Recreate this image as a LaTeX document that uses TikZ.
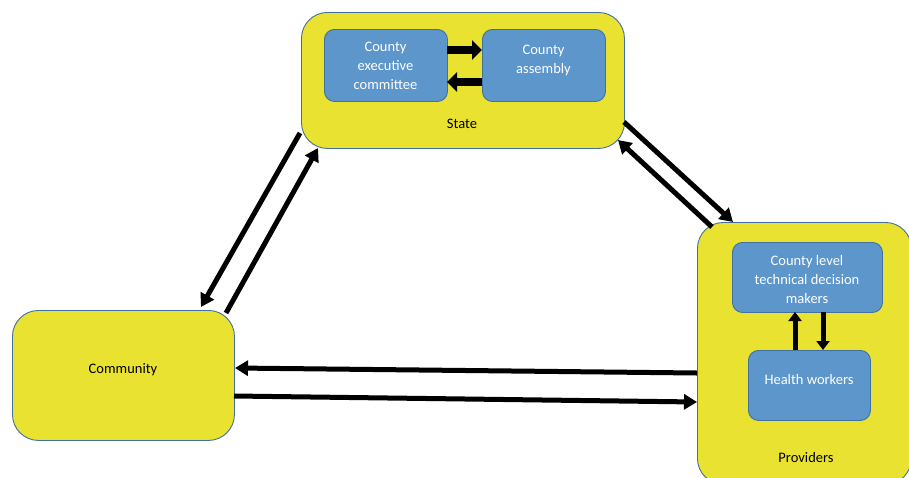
\documentclass[tikz,border=0pt]{standalone}
\usepackage{fontspec}
\setmainfont{Carlito}
\usetikzlibrary{arrows.meta}
\definecolor{ybox}{RGB}{234,226,48}
\definecolor{bbox}{RGB}{93,150,203}
\definecolor{bline}{RGB}{65,113,156}
\tikzset{
  outer/.style={draw=bline, line width=0.9pt, fill=ybox, rounded corners=26pt, anchor=north west, inner sep=0pt},
  inner/.style={draw=bline, line width=0.9pt, fill=bbox, rounded corners=10pt, anchor=north west, inner sep=0pt},
  wtext/.style={text=white, font=\fontsize{14.5}{19}\selectfont, align=center},
  btext/.style={text=black, font=\fontsize{14.5}{17}\selectfont},
  flow/.style={line width=5pt, -{Triangle[length=13pt,width=15pt]}},
  block/.style={line width=8pt, -{Triangle[length=10pt,width=19pt]}},
  vflow/.style={line width=5pt, -{Triangle[length=9pt,width=13pt]}},
}
\begin{document}
\begin{tikzpicture}[x=1pt,y=-1pt]
\clip (0,0) rectangle (909,477);
\fill[white] (0,0) rectangle (909,477);
% outer boxes
\node[outer, minimum width=323pt, minimum height=136pt] (state) at (301,12) {};
\node[outer, minimum width=222pt, minimum height=130pt] (comm) at (12,310) {};
\node[outer, minimum width=214pt, minimum height=262pt] (prov) at (697,222) {};
% inner boxes
\node[inner, minimum width=123pt, minimum height=72pt] (cec) at (324,29) {};
\node[inner, minimum width=123pt, minimum height=72pt] (ca) at (482,29) {};
\node[inner, minimum width=150pt, minimum height=70pt] (cl) at (732,242) {};
\node[inner, minimum width=122pt, minimum height=70pt] (hw) at (748,350) {};
% texts
\node[wtext] (tcec) at (385.5,66) {County\\executive\\committee};
\node[wtext] (tca) at (543.5,60) {County\\assembly};
\node[wtext] (tcl) at (807,280) {County level\\technical decision\\makers};
\node[wtext] (thw) at (809,380) {Health workers};
\node[btext] (tstate) at (462,124) {State};
\node[btext] (tcomm) at (123,370) {Community};
\node[btext] (tprov) at (806,458) {Providers};
% coordinates
\coordinate (a1s) at (447,50); \coordinate (a1e) at (482,50);
\coordinate (a2s) at (482,82); \coordinate (a2e) at (447,82);
\coordinate (b1s) at (300,133); \coordinate (b1e) at (201,307);
\coordinate (b2s) at (226,313); \coordinate (b2e) at (318,148);
\coordinate (c1s) at (624,122); \coordinate (c1e) at (733,222);
\coordinate (c2s) at (712,227); \coordinate (c2e) at (618,140);
\coordinate (d1s) at (697,373); \coordinate (d1e) at (235,368);
\coordinate (d2s) at (234,396); \coordinate (d2e) at (697,402);
\coordinate (e1s) at (795,350); \coordinate (e1e) at (795,312);
\coordinate (e2s) at (823,312); \coordinate (e2e) at (823,350);
% arrows
\draw[block] (a1s) -- (a1e);
\draw[block] (a2s) -- (a2e);
\draw[flow] (b1s) -- (b1e);
\draw[flow] (b2s) -- (b2e);
\draw[flow] (c1s) -- (c1e);
\draw[flow] (c2s) -- (c2e);
\draw[flow] (d1s) -- (d1e);
\draw[flow] (d2s) -- (d2e);
\draw[vflow] (e1s) -- (e1e);
\draw[vflow] (e2s) -- (e2e);
\end{tikzpicture}
\end{document}
